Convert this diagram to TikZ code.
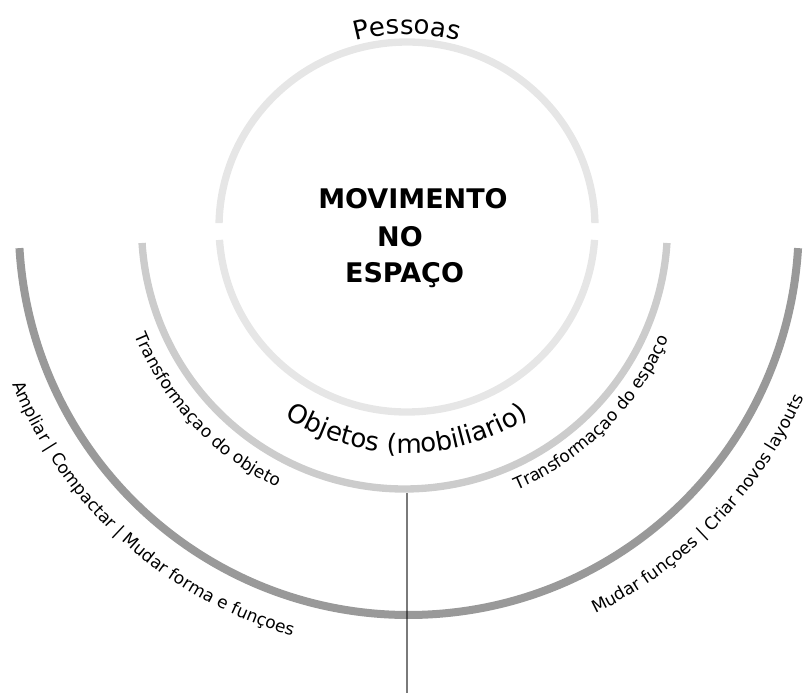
\documentclass[tikz,border=0pt]{standalone}
\usepackage{fontspec}
\setmainfont{DejaVu Sans}
\usetikzlibrary{decorations.text}
\definecolor{ringin}{HTML}{E6E6E6}
\definecolor{ringmid}{HTML}{CCCCCC}
\definecolor{ringout}{HTML}{999999}
\newcommand\ringbig{\fontsize{19.5}{23}\selectfont}
\newcommand\ringsmall{\fontsize{12.75}{15}\selectfont}
\begin{document}
\begin{tikzpicture}[x=0.75pt,y=0.75pt,
  ring/.style={line width=5.5pt,line cap=butt},
  title/.style={font=\fontsize{20.25}{24}\selectfont\bfseries,anchor=base,inner sep=0pt},
  arclabel/.style={decorate,decoration={text along path,text align=center,
    text format delimiters={[}{]},text={#1}}}]
  \useasboundingbox (0,0) rectangle (803,-695);
  \coordinate (cin) at (407,-227);
  \coordinate (cmid) at (404.5,-226);
  \coordinate (cout) at (408.75,-225);
  \coordinate (objbot) at (407,-493);
  \coordinate (stemend) at (407,-693);
  \draw[ring,ringin] ([shift={(1.2:188 and 185)}]cin) arc[start angle=1.2,end angle=178.8,x radius=188,y radius=185];
  \draw[ring,ringin] ([shift={(184:188 and 185)}]cin) arc[start angle=184,end angle=356,x radius=188,y radius=185];
  \draw[ring,ringmid] ([shift={(183.7:263)}]cmid) arc[start angle=183.7,end angle=356.3,radius=263];
  \draw[ring,ringout,line width=6pt] ([shift={(183.4:390)}]cout) arc[start angle=183.4,end angle=356.6,radius=390];
  \draw[black,opacity=0.52,line width=1.6pt] (objbot) -- (stemend);
  \node[title] (mov) at (413,-209) {MOVIMENTO};
  \node[title] (no) at (400,-247) {NO};
  \node[title] (esp) at (404.5,-283) {ESPAÇO};
  \path[arclabel={[\ringbig]Pessoas}] ([shift={(130:193)}]cin) arc[start angle=130,end angle=50,radius=193];
  \path[arclabel={[\ringbig]Objetos (mobiliario)}] ([shift={(220:226)}]cin) arc[start angle=220,end angle=320,radius=226];
  \path[arclabel={[\ringsmall]Transformaçao do objeto}] ([shift={(183:291)}]cmid) arc[start angle=183,end angle=263,radius=291];
  \path[arclabel={[\ringsmall]Transformaçao do espaço}] ([shift={(275:287)}]cmid) arc[start angle=275,end angle=355,radius=287];
  \path[arclabel={[\ringsmall]Ampliar | Compactar | Mudar forma e funçoes}] ([shift={(188:427)}]cout) arc[start angle=188,end angle=268,radius=427];
  \path[arclabel={[\ringsmall]Mudar funçoes | Criar novos layouts}] ([shift={(276:431)}]cout) arc[start angle=276,end angle=356,radius=431];
\end{tikzpicture}
\end{document}
